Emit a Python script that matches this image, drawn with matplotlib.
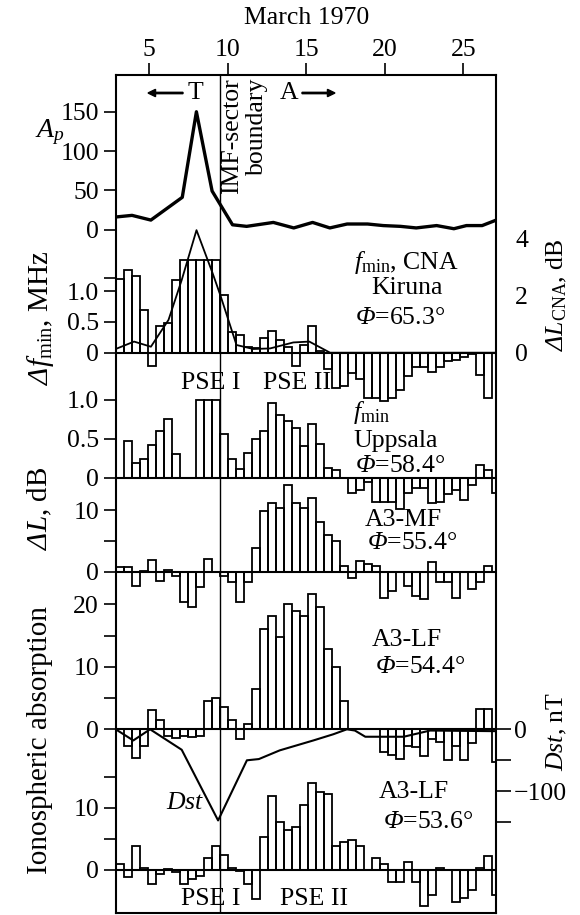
import numpy as np
import matplotlib
matplotlib.use("Agg")
import matplotlib.pyplot as plt

plt.rcParams['font.family'] = ['Liberation Serif', 'DejaVu Serif']
# custom mathtext: italic everywhere (so Greek capitals come out slanted), \mathsf = upright
plt.rcParams['mathtext.fontset'] = 'custom'
plt.rcParams['mathtext.rm'] = 'Liberation Serif:italic'
plt.rcParams['mathtext.it'] = 'Liberation Serif:italic'
plt.rcParams['mathtext.sf'] = 'Liberation Serif'
plt.rcParams['font.size'] = 18.5
FS = 18.5

# ---- data (12-hour bins from the left edge of the frame, March 1970) ----
bins = np.arange(48)

ap_days = [2.9, 3.9, 5.1, 7.1, 8.0, 9.0, 10.3, 11.2, 12.9, 14.2, 15.4, 16.5,
           17.6, 18.9, 19.9, 21.0, 22.0, 23.3, 24.4, 25.2, 26.2, 27.1]
ap_vals = [16, 18, 12, 41, 150, 49, 6, 4, 9, 2, 9, 2, 7, 7, 5, 4, 2, 5, 1, 5, 5, 12]

cna_fmin = [1.20, 1.35, 1.24, 0.70, -0.22, 0.43, 0.48, 1.19, 1.51, 1.51, 1.51, 1.51,
            1.51, 0.94, 0.34, 0.28, 0.09, 0.07, 0.24, 0.35, 0.20, 0.10, -0.21, 0.12,
            0.43, 0.02, -0.27, -0.58, -0.54, -0.33, -0.43, -0.73, -0.73, -0.78, -0.74, -0.61,
            -0.38, -0.24, -0.23, -0.31, -0.23, -0.14, -0.12, -0.07, -0.02, -0.37, -0.73, 0.0]

cna_db_x = [0, 2.3, 4.4, 6.6, 8.25, 10.1, 12.1, 13.1, 15.1, 17.2, 19.3, 22.2, 24.2, 26.8, 47.5]
cna_db = [0.13, 0.39, 0.21, 1.15, 2.55, 4.3, 2.8, 2.0, 0.27, 0.13, 0.15, 0.36, 0.39, 0.0, 0.0]

upp_fmin = [0, 0.47, 0.18, 0.24, 0.42, 0.59, 0.75, 0.30, 0, 0, 0.99, 0.99,
            0.99, 0.56, 0.24, 0.11, 0.32, 0.50, 0.60, 0.95, 0.80, 0.72, 0.64, 0.40,
            0.69, 0.43, 0.12, 0.09, 0, -0.20, -0.16, -0.06, -0.32, -0.32, -0.32, -0.41,
            -0.20, -0.13, -0.13, -0.33, -0.31, -0.21, -0.16, -0.29, -0.09, 0.16, 0.09, -0.20]

mf_554 = [0.8, 0.8, -2.3, 0.1, 1.9, -1.5, 0.2, -0.7, -4.9, -5.8, -2.4, 2.05,
          0, -0.7, -1.6, -4.9, -1.6, 3.9, 9.8, 11.2, 10.4, 14.1, 11.2, 10.4,
          11.9, 8.0, 5.9, 5.0, 0.9, -1.0, 1.8, 1.2, 0.9, -4.2, -3.2, 0,
          -2.3, -3.9, -4.4, 1.5, -1.6, -1.7, -4.2, 0, -2.8, -1.6, 0.9, 0]

lf_544 = [0, -2.6, -4.6, -2.7, 3.1, 1.5, -1.1, -1.4, -1.1, -1.3, -1.1, 4.6,
          5.0, 3.5, 1.5, -1.5, 0.9, 6.5, 16.0, 18.1, 14.7, 20.0, 18.9, 18.1,
          21.6, 19.5, 12.8, 10.0, 4.6, 0, 0, 0, 0, -3.6, -4.1, -4.7,
          -2.6, -2.9, -4.2, -1.6, -2.0, -4.9, -2.6, -4.9, -2.2, 3.2, 3.2, -5.3]

dst_x = [0, 2.2, 4.3, 8.25, 12.8, 16.4, 17.9, 20.5, 24.7, 27.2, 28.9, 29.9, 31.2, 36.0, 39.3, 47.5]
dst = [0, -18, 0, -33, -147, -50, -48, -34, -18, -8, 0, -2, -12, -12, -2, -3]

lf_536 = [0.9, -1.1, 3.9, 0.4, -2.3, -0.6, 0.2, -0.4, -2.2, -1.5, -0.9, 1.9,
          3.9, 2.4, 0.4, -0.2, -2.3, -4.6, 5.4, 12.0, 7.7, 6.5, 7.0, 10.5,
          14.0, 12.6, 12.2, 3.9, 4.5, 4.9, 3.9, 0, 2.0, 0.9, -2.0, -2.0,
          1.3, -2.0, -5.8, -4.1, 0.4, 0, -5.2, -4.5, -3.3, 0.4, 2.2, -4.1]

day_ticks = [5, 10, 15, 20, 25]
boundary_bin = 13

# ---- layout (pixels of the 580x915 picture) ----
W, H = 580, 915
L, R, T, B = 115.7, 495.7, 75.0, 913.3
NB = 47.5


def day_to_bin(d):
    return 4.2 + (np.asarray(d) - 5) * 1.9625


def bin_to_day(b):
    return 5 + (np.asarray(b) - 4.2) / 1.9625


def fp(x, y):
    return x / W, 1 - y / H


fig = plt.figure(figsize=(W / 100, H / 100), dpi=100)
rect = [L / W, 1 - B / H, (R - L) / W, (B - T) / H]

base = fig.add_axes(rect, facecolor='none')
base.set_xlim(0, NB)
base.set_ylim(0, 1)
base.set_yticks([])
base.set_xticks([])
for s in base.spines.values():
    s.set_linewidth(1.5)
base.axvline(boundary_bin, color='k', lw=1.0)
top = base.secondary_xaxis('top', functions=(bin_to_day, day_to_bin))
top.set_xticks(day_ticks)
top.tick_params(direction='out', length=9, width=1.2, pad=1, labelsize=FS)
top.spines['top'].set_visible(False)


def layer(zero_px, ppu, ticks, labels, side='left', length=9, pad=3):
    ax = fig.add_axes(rect, facecolor='none')
    ax.set_xlim(0, NB)
    ax.set_ylim(-(B - zero_px) / ppu, (zero_px - T) / ppu)
    for s in ax.spines.values():
        s.set_visible(False)
    ax.set_xticks([])
    if side == 'right':
        ax.yaxis.tick_right()
    ax.set_yticks(ticks)
    ax.set_yticklabels(labels)
    ax.tick_params(axis='y', direction='out', length=length, width=1.2, pad=pad, labelsize=FS)
    return ax


def bars(ax, vals):
    ax.bar(bins, vals, width=1, align='edge', fill=False, edgecolor='k', linewidth=1.3)
    ax.axhline(0, color='k', lw=1.5)


# Ap
ax_ap = layer(229.5, 0.785, [0, 50, 100, 150], ['0', '50', '100', '150'])
ax_ap.plot(day_to_bin(ap_days), ap_vals, color='k', lw=2.4)

# CNA Kiruna
ax_cna = layer(352.7, 61.5, [0, 0.5, 1.0, 1.21], ['0', '0.5', '1.0', ''])
bars(ax_cna, cna_fmin)
ax_cdb = layer(352.7, 28.5, [0, 2, 4], ['0', '2', '4'], side='right', length=0, pad=14)
ax_cdb.plot(cna_db_x, cna_db, color='k', lw=1.3)

# Uppsala
ax_up = layer(477.5, 78.0, [0, 0.5, 1.0], ['0', '0.5', '1.0'])
bars(ax_up, upp_fmin)

# A3-MF
ax_mf = layer(571.7, 6.17, [0, 5, 10], ['0', '', '10'])
bars(ax_mf, mf_554)

# A3-LF 54.4 + Dst
ax_lf1 = layer(729.3, 6.25, [0, 5, 10, 15, 20], ['0', '', '10', '', '20'])
bars(ax_lf1, lf_544)
ax_dst = layer(729.3, 0.62, [0, -50, -100, -150], ['0', '', '\u2212100', ''],
               side='right', length=11, pad=2)
ax_dst.plot(dst_x, dst, color='k', lw=1.5)

# A3-LF 53.6
ax_lf2 = layer(870.0, 6.2, [0, 5, 10, 15], ['0', '', '10', ''])
bars(ax_lf2, lf_536)

# ---- texts ----
def txt(x, y, s, **kw):
    kw.setdefault('ha', 'center')
    kw.setdefault('va', 'center')
    kw.setdefault('fontsize', FS)
    fig.text(*fp(x, y), s, **kw)


txt(307, 18, 'March 1970')
txt(195, 93, 'T')
txt(289, 93, 'A')
for x0, dx in [(183, -35), (302, 33)]:
    fig.patches.append(matplotlib.patches.FancyArrow(
        x0 / W, 1 - 93 / H, dx / W, 0, width=0.0015, head_width=0.008, head_length=0.013,
        length_includes_head=True, color='k', transform=fig.transFigure))
txt(232, 78, 'IMF-sector', rotation=90, va='top')
txt(257, 78, 'boundary', rotation=90, va='top')

txt(50, 132, r'$A_p$', fontsize=20)

txt(406, 263, r'$f_{\mathsf{min}}$, CNA')
txt(407, 288, 'Kiruna')
txt(400, 318, r'$\Phi$=65.3°')
txt(211, 383, 'PSE I')
txt(297, 383, 'PSE II')

txt(353, 412, r'$f_{\mathsf{min}}$', ha='left')
txt(353, 441, 'Uppsala', ha='left')
txt(355, 466, r'$\Phi$=58.4°', ha='left')

txt(403, 520, 'A3-MF')
txt(412, 543, r'$\Phi$=55.4°')
txt(407, 640, 'A3-LF')
txt(420, 667, r'$\Phi$=54.4°')
txt(414, 792, 'A3-LF')
txt(428, 822, r'$\Phi$=53.6°')
txt(185, 803, r'$Dst$')
txt(211, 899, 'PSE I')
txt(314, 899, 'PSE II')

txt(40, 318, r'$\Delta f_{\mathsf{min}}$, MHz', rotation=90, fontsize=21)
txt(40, 508, r'$\Delta L$, dB', rotation=90, fontsize=21)
txt(40, 740, 'Ionospheric absorption', rotation=90, fontsize=21)
txt(557, 295, r'$\Delta L_{\mathsf{CNA}}$, dB', rotation=90)
txt(557, 731, r'$Dst$, nT', rotation=90)

fig.savefig('out.png', dpi=100)
